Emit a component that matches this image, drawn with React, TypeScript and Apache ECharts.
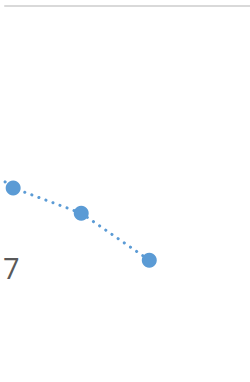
import React, { useEffect, useRef } from "react";
import * as echarts from "echarts";

const xValues = [-1, 0, 1, 2];
const yValues = [65.2, 51.6, 44.9, 32.4];
const labelText = "7";

export default function App() {
  const ref = useRef<HTMLDivElement>(null);
  useEffect(() => {
    if (!ref.current) return;
    const chart = echarts.init(ref.current, null, { renderer: "svg" });
    chart.setOption({
      animation: false,
      grid: { left: 5, right: 0, top: 6, bottom: 0 },
      xAxis: {
        type: "value",
        min: -0.12,
        max: 3.48,
        position: "top",
        axisLine: { show: true, onZero: false, lineStyle: { color: "#d9d9d9", width: 2 } },
        axisTick: { show: false },
        axisLabel: { show: false },
        splitLine: { show: false },
      },
      yAxis: {
        type: "value",
        min: 0,
        max: 100,
        axisLine: { show: false },
        axisTick: { show: false },
        axisLabel: { show: false },
        splitLine: { show: false },
      },
      series: [
        {
          type: "line",
          data: xValues.map((x, i) => [x, yValues[i]]),
          clip: true,
          symbol: "circle",
          symbolSize: 15,
          showSymbol: true,
          itemStyle: { color: "#5b9bd5" },
          lineStyle: { color: "#5b9bd5", width: 3, type: [0.1, 7.4], cap: "round" },
        },
      ],
      graphic: [
        {
          type: "text",
          left: 3,
          top: 253,
          style: {
            text: labelText,
            fontSize: 29,
            fill: "#595959",
            fontFamily: "Open Sans",
          },
        },
      ],
    });
    return () => chart.dispose();
  }, []);
  return <div ref={ref} style={{ width: 250, height: 382, position: "absolute", left: 0, top: 0 }} />;
}
